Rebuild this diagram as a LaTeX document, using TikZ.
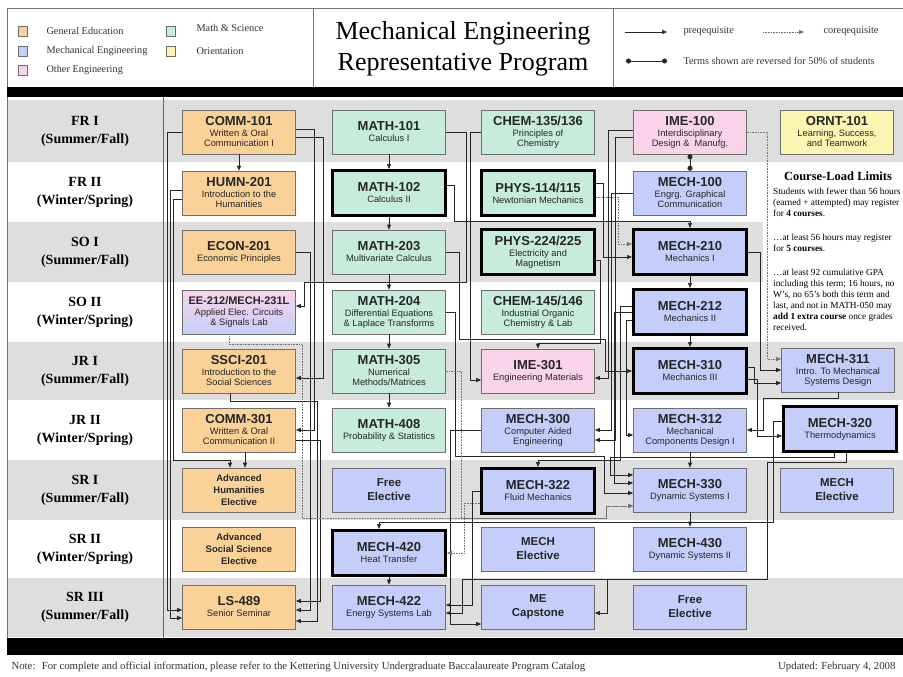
\documentclass[tikz,border=0pt]{standalone}
\usepackage{fontspec}
\setmainfont{Liberation Serif}
\setsansfont{Liberation Sans}
\usetikzlibrary{arrows.meta}

\definecolor{genEd}{RGB}{250,210,152}
\definecolor{mathSci}{RGB}{199,236,219}
\definecolor{mechEng}{RGB}{197,206,250}
\definecolor{othEng}{RGB}{250,212,232}
\definecolor{orientCol}{RGB}{250,246,178}
\definecolor{bandGray}{RGB}{222,222,222}
\definecolor{boxLine}{RGB}{110,110,110}

% course code on top, title below
\newcommand{\crs}[2]{{\fontsize{13}{13}\selectfont\bfseries #1}\\[1pt]#2}

\begin{document}
\begin{tikzpicture}[x=1pt, y=-1pt,
    course/.style={draw=boxLine, line width=0.6pt, minimum width=113pt, minimum height=44pt,
        inner sep=1pt, align=center, text=black!85, font=\sffamily\fontsize{9.3}{10}\selectfont},
    gened/.style={course, fill=genEd},
    mathsci/.style={course, fill=mathSci},
    mecheng/.style={course, fill=mechEng},
    otheng/.style={course, fill=othEng},
    orientbox/.style={course, fill=orientCol},
    core/.style={draw=black, line width=3pt, minimum height=45pt},
    elect/.style={font=\sffamily\bfseries\fontsize{11.5}{14}\selectfont},
    advel/.style={font=\sffamily\bfseries\fontsize{9.5}{12}\selectfont},
    prereq/.style={draw=black!85, line width=0.6pt, -{Triangle[length=5pt,width=4pt]}},
    coreq/.style={prereq, draw=black!55, densely dotted},
    terms/.style={draw=black!85, line width=0.8pt, {Circle[length=5pt]}-{Circle[length=5pt]}},
    rowlabel/.style={align=center, font=\bfseries\fontsize{14}{18}\selectfont},
    legtext/.style={anchor=west, text=black!80, font=\fontsize{10.3}{12}\selectfont},
]
    % --- Configuration ---
    \def\colA{239}  % General Education column
    \def\colB{389}  % Math column
    \def\colC{538}  % Science column
    \def\colD{690}  % Mechanical column
    \def\colE{837}  % right column
    \def\rowA{132}\def\rowB{193}\def\rowC{252}\def\rowD{312}\def\rowE{371}
    \def\rowF{430}\def\rowG{490}\def\rowH{549}\def\rowI{607}

    \useasboundingbox (0,0) rectangle (903,677);
    \fill[white] (0,0) rectangle (903,677);

    % --- Row bands and term labels ---
    \foreach \ya/\yb/\yr [count=\i] in {100/162/FR I, 162/222/FR II, 222/282/SO I, 282/342/SO II,
        342/400/JR I, 400/460/JR II, 460/520/SR I, 520/578/SR II, 578/637/SR III} {
        \ifodd\i
            \fill[bandGray] (7,\ya) rectangle (903,\yb);
            \def\term{(Summer/Fall)}
        \else
            \def\term{(Winter/Spring)}
        \fi
        \node[rowlabel] (term\i) at (85,{(\ya+\yb)/2}) {\yr\\\term};
    }
    \fill[white] (763,162) rectangle (903,342); % course-load notes
    \draw[black!60] (163,97) -- (163,638);

    % --- Frame and black bands ---
    \draw[black!55, line width=0.8pt] (7,655) -- (7,8) -- (903,8);
    \draw[black!55, line width=0.8pt] (313,8) -- (313,87);
    \draw[black!55, line width=0.8pt] (613,8) -- (613,87);
    \fill[black] (7,87) rectangle (903,97);
    \fill[black] (7,638) rectangle (903,655);

    % --- Header: colour legend ---
    \node[draw=boxLine, fill=genEd, minimum width=9pt, minimum height=10pt, inner sep=0] (lgGen) at (22.5,31) {};
    \node[draw=boxLine, fill=mechEng, minimum width=9pt, minimum height=10pt, inner sep=0] (lgMech) at (22.5,51) {};
    \node[draw=boxLine, fill=othEng, minimum width=9pt, minimum height=10pt, inner sep=0] (lgOth) at (22.5,70) {};
    \node[draw=boxLine, fill=mathSci, minimum width=9pt, minimum height=10pt, inner sep=0] (lgMath) at (170.5,31) {};
    \node[draw=boxLine, fill=orientCol, minimum width=9pt, minimum height=10pt, inner sep=0] (lgOri) at (170.5,51) {};
    \node[legtext] at (43,31) {General Education};
    \node[legtext] at (43,51) {Mechanical Engineering};
    \node[legtext] at (43,70) {Other Engineering};
    \node[legtext] at (193,28) {Math \& Science};
    \node[legtext] at (193,51) {Orientation};

    % --- Header: title ---
    \node[align=center, font=\fontsize{26}{31}\selectfont] (title) at (463,49)
        {Mechanical Engineering\\Representative Program};

    % --- Header: line legend ---
    \coordinate (preA) at (625,32); \coordinate (preB) at (667,32);
    \coordinate (coA) at (763,32);  \coordinate (coB) at (804,32);
    \coordinate (trA) at (626,61);  \coordinate (trB) at (667,61);
    \draw[prereq] (preA) -- (preB);
    \draw[coreq] (coA) -- (coB);
    \draw[terms] (trA) -- (trB);
    \node[legtext] at (680,31) {preqequisite};
    \node[legtext] at (820,31) {coreqequisite};
    \node[legtext] at (680,61) {Terms shown are reversed for 50\% of students};

    % --- Column 1: general education ---
    \node[gened] (comm101) at (\colA,\rowA) {\crs{COMM-101}{Written \& Oral\\Communication I}};
    \node[gened] (humn201) at (\colA,\rowB) {\crs{HUMN-201}{Introduction to the\\Humanities}};
    \node[gened] (econ201) at (\colA,\rowC) {\crs{ECON-201}{Economic Principles}};
    \node[otheng, top color=othEng, bottom color=mechEng] (ee212) at (\colA,\rowD)
        {{\fontsize{11}{11}\selectfont\bfseries EE-212/MECH-231L}\\[1pt]Applied Elec. Circuits\\\& Signals Lab};
    \node[gened] (ssci201) at (\colA,\rowE) {\crs{SSCI-201}{Introduction to the\\Social Sciences}};
    \node[gened] (comm301) at (\colA,\rowF) {\crs{COMM-301}{Written \& Oral\\Communication II}};
    \node[gened, advel] (advhum) at (\colA,\rowG) {Advanced\\Humanities\\Elective};
    \node[gened, advel] (advsoc) at (\colA,\rowH) {Advanced\\Social Science\\Elective};
    \node[gened] (ls489) at (\colA,\rowI) {\crs{LS-489}{Senior Seminar}};

    % --- Column 2: mathematics ---
    \node[mathsci] (math101) at (\colB,\rowA) {\crs{MATH-101}{Calculus I}};
    \node[mathsci, core] (math102) at (\colB,\rowB) {\crs{MATH-102}{Calculus II}};
    \node[mathsci] (math203) at (\colB,\rowC) {\crs{MATH-203}{Multivariate Calculus}};
    \node[mathsci] (math204) at (\colB,\rowD) {\crs{MATH-204}{Differential Equations\\\& Laplace Transforms}};
    \node[mathsci] (math305) at (\colB,\rowE) {\crs{MATH-305}{Numerical\\Methods/Matrices}};
    \node[mathsci] (math408) at (\colB,\rowF) {\crs{MATH-408}{Probability \& Statistics}};
    \node[mecheng, elect] (freeA) at (\colB,\rowG) {Free\\Elective};
    \node[mecheng, core] (mech420) at (\colB,553) {\crs{MECH-420}{Heat Transfer}};
    \node[mecheng] (mech422) at (\colB,\rowI) {\crs{MECH-422}{Energy Systems Lab}};

    % --- Column 3: science ---
    \node[mathsci] (chem135) at (\colC,\rowA) {\crs{CHEM-135/136}{Principles of\\Chemistry}};
    \node[mathsci, core] (phys114) at (\colC,\rowB) {\crs{PHYS-114/115}{Newtonian Mechanics}};
    \node[mathsci, core] (phys224) at (\colC,\rowC) {\crs{PHYS-224/225}{Electricity and\\Magnetism}};
    \node[mathsci] (chem145) at (\colC,\rowD) {\crs{CHEM-145/146}{Industrial Organic\\Chemistry \& Lab}};
    \node[otheng] (ime301) at (\colC,\rowE) {\crs{IME-301}{Engineering Materials}};
    \node[mecheng] (mech300) at (\colC,\rowF) {\crs{MECH-300}{Computer Aided\\Engineering}};
    \node[mecheng, core] (mech322) at (\colC,491) {\crs{MECH-322}{Fluid Mechanics}};
    \node[mecheng, elect] (mechelA) at (\colC,\rowH) {MECH\\Elective};
    \node[mecheng, elect] (capstone) at (\colC,\rowI) {ME\\Capstone};

    % --- Column 4: mechanical ---
    \node[otheng] (ime100) at (\colD,\rowA) {\crs{IME-100}{Interdisciplinary\\Design \&~ Manufg.}};
    \node[mecheng] (mech100) at (\colD,\rowB) {\crs{MECH-100}{Engrg. Graphical\\Communication}};
    \node[mecheng, core] (mech210) at (\colD,\rowC) {\crs{MECH-210}{Mechanics I}};
    \node[mecheng, core] (mech212) at (\colD,\rowD) {\crs{MECH-212}{Mechanics II}};
    \node[mecheng, core] (mech310) at (\colD,\rowE) {\crs{MECH-310}{Mechanics III}};
    \node[mecheng] (mech312) at (\colD,\rowF) {\crs{MECH-312}{Mechanical\\Components Design I}};
    \node[mecheng] (mech330) at (\colD,\rowG) {\crs{MECH-330}{Dynamic Systems I}};
    \node[mecheng] (mech430) at (\colD,\rowH) {\crs{MECH-430}{Dynamic Systems II}};
    \node[mecheng, elect] (freeB) at (\colD,\rowI) {Free\\Elective};

    % --- Column 5 ---
    \node[orientbox] (ornt101) at (\colE,\rowA) {\crs{ORNT-101}{Learning, Success,\\and Teamwork}};
    \node[mecheng] (mech311) at (838,370) {\crs{MECH-311}{Intro. To Mechanical\\Systems Design}};
    \node[mecheng, core] (mech320) at (840,429) {\crs{MECH-320}{Thermodynamics}};
    \node[mecheng, elect] (mechelB) at (\colE,\rowG) {MECH\\Elective};

    % --- Course-load notes ---
    \node[font=\bfseries\fontsize{12.5}{14}\selectfont] (loadHead) at (838,176) {Course-Load Limits};
    \node[anchor=north west, align=left, inner sep=0, font=\fontsize{9.3}{11}\selectfont] (loadA) at (773,188)
        {Students with fewer than 56 hours\\(earned + attempted) may register\\for \textbf{4 courses}.};
    \node[anchor=north west, align=left, inner sep=0, font=\fontsize{9.3}{11}\selectfont] (loadB) at (773,234)
        {…at least 56 hours may register\\for \textbf{5 courses}.};
    \node[anchor=north west, align=left, inner sep=0, font=\fontsize{9.3}{11}\selectfont] (loadC) at (773,269)
        {…at least 92 cumulative GPA\\including this term; 16 hours, no\\W’s, no 65’s both this term and\\last, and not in MATH-050 may\\\textbf{add 1 extra course} once grades\\received.};

    % --- Straight prerequisites ---
    \foreach \a/\b in {comm101/humn201, math101/math102, math102/math203, math203/math204,
        math204/math305, math305/math408, mech210/mech212, mech212/mech310,
        mech312/mech330, mech330/mech430, mech420/mech422} {
        \draw[prereq] (\a.south) -- (\b.north);
    }
    \draw[terms] (ime100.south) -- (mech100.north);

    % --- Column 1 routes ---
    \draw[prereq] (comm101.west) -- ++(-15,0) |- ([yshift=-3pt]ls489.west);
    \draw[prereq] ([yshift=3pt]humn201.west) -- ++(-12,0) |- ([yshift=-11pt]ls489.west);
    \draw[prereq] ([yshift=-6pt]humn201.west) -- ++(-9,0) -- ++(0,261) -| ([xshift=-9pt]advhum.north);
    \draw[prereq] ([xshift=6pt]comm301.south) -- ([xshift=6pt]advhum.north);
    \draw[prereq] ([yshift=3pt]comm101.east) -- ++(18,0) |- (comm301.east);
    \draw[prereq] ([yshift=-5pt]comm101.east) -- ++(27,0) |- ([yshift=-7pt]ssci201.east);
    \draw[prereq] (econ201.east) -- ++(14,0) |- ([yshift=-3pt]ls489.east);
    \draw[prereq] ([xshift=-9pt]ssci201.south) -- ++(0,8) -- ++(87,0) |- ([yshift=-14pt]ls489.east);
    \draw[prereq] ([yshift=-10pt]comm301.east) -- ++(24,0) |- ([yshift=6pt]ls489.east);
    \draw[prereq] (math101.east) -- ++(20,0) -- ++(0,150) -- ++(-162,0) |- ([yshift=6pt]ee212.east);
    \draw[coreq] ([xshift=-10pt]ee212.south) -- ++(0,10) -- ++(73,0) -- ++(0,174) -- ++(304,0)
        |- ([yshift=-16pt]mech330.west);

    % --- Column 2 routes ---
    \draw[prereq] ([yshift=8pt]math102.east) -- ++(7,0) -- ++(0,36) -| (mech210.north);
    \draw[prereq] (math203.east) -- ++(13.5,0) -- ++(0,87) -- ++(146,0) |- (mech310.west);
    \draw[prereq] (math204.east) -- ++(9.5,0) -- ++(0,144) -- ++(149,0) |- ([yshift=-3pt]mech330.west);
    \draw[coreq] (math305.east) -- ++(15.5,0) -- ++(0,147) -- ++(145,0) |- ([yshift=-16pt]mech330.west);

    % --- Column 3 routes ---
    \draw[prereq] (chem135.west) -- ++(-11,0) |- ([yshift=-9pt]ime301.west);
    \draw[prereq] ([yshift=10pt]phys114.east) -- ++(7,0) |- ([yshift=-5pt]mech210.west);
    \draw[coreq] ([yshift=-4pt]phys114.east) -- ++(22,0) |- ([yshift=8pt]mech210.west);
    \draw[prereq] ([yshift=-8pt]phys224.east) -- ++(4,0) -- ++(0,83) -| (ime301.north);
    \draw[prereq] (mech300.west) -- ++(-30.5,0) |- ([yshift=-17pt]capstone.west);
    \draw[prereq] (mech322.west) -- ++(-8,0) |- ([yshift=2pt]mech422.east);
    \draw[coreq] ([yshift=-12pt]mech322.west) -- ++(-16,0) |- (mech420.east);

    % --- Column 4 routes ---
    \draw[prereq] ([yshift=2pt]ime100.west) -- ++(-25,0) |- ([yshift=-7pt]ime301.east);
    \draw[prereq] ([yshift=-5pt]ime100.west) -- ++(-17.5,0) |- ([yshift=-10pt]mech300.east);
    \draw[coreq] (ime100.east) -- ++(20.5,0) |- ([yshift=11pt]mech311.west);
    \draw[prereq] (mech100.west) -- ++(-21.5,0) |- (mech300.east);
    \draw[prereq] (mech210.east) -- ++(12,0) |- (mech311.west);
    \draw[prereq] ([yshift=6pt]mech212.west) -- ++(-12,0) -- ++(0,154) -| (mech322.north);
    \draw[prereq] (mech212.west) -- ++(-18,0) |- ([yshift=7pt]mech330.west);
    \draw[prereq] ([yshift=-8pt]mech212.west) -- ++(-6,0) |- ([yshift=-5pt]mech312.west);
    \draw[prereq] ([yshift=4pt]mech310.east) -- ++(6,0) |- ([yshift=-13pt]mech311.west);
    \draw[prereq] ([yshift=-8pt]mech310.east) -- ++(9,0) |- ([yshift=-7pt]mech320.west);

    % --- Column 5 routes ---
    \draw[prereq] (mech311.south) -- ++(0,6) -- ++(-75,0) |- (mech312.east);
    \draw[prereq] ([xshift=-6pt]mech320.south) -- ++(0,4) -- ++(-224,0) |- ([yshift=15pt]mech330.west);
    \draw[prereq] ([yshift=8pt]mech320.west) -- ++(-9,0) -- ++(0,101) -| ([xshift=-10pt]mech420.north);
    \draw[prereq] ([xshift=6pt]mech320.south) -- ++(0,9) -- ++(-79,0) -- ++(0,117) -- ++(-160,0)
        |- ([yshift=-6pt]capstone.east);
    \draw[prereq] ([xshift=6pt]mech320.south) -- ++(0,9) -- ++(-79,0) -- ++(0,117) -- ++(-305,0)
        |- ([yshift=-6pt]mech422.east);

    % --- Footer ---
    \node[legtext, font=\fontsize{10.8}{12}\selectfont] (note) at (8,667)
        {Note:~ For complete and official information, please refer to the Kettering University Undergraduate Baccalaureate Program Catalog};
    \node[anchor=east, text=black!80, font=\fontsize{10.8}{12}\selectfont] (updated) at (899,667) {Updated: February 4, 2008};
\end{tikzpicture}
\end{document}
